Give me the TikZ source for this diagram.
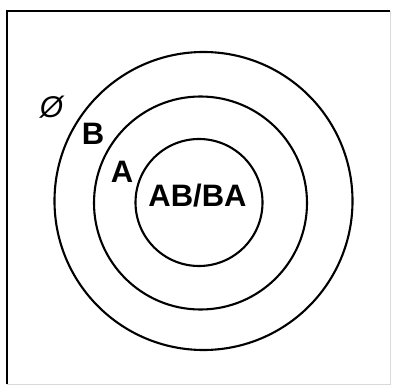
\documentclass[tikz,border=0pt]{standalone}
\usepackage{fontspec}
\setmainfont{Liberation Sans}
\usepackage{tikz}
\usetikzlibrary{positioning}
\tikzset{
  ring/.style       = {black, line width=2.1pt},
  frame edge/.style = {black, line width=2.2pt},
  faint edge/.style = {black!15, line width=0.6pt},
  set label/.style  = {font=\fontsize{31}{31}\selectfont\bfseries,
                       inner sep=0pt, anchor=base},
  void label/.style = {font=\fontsize{30}{30}\selectfont\itshape,
                       inner sep=0pt},
}

\begin{document}
\begin{tikzpicture}[x=1pt,y=-1pt]
      \useasboundingbox (0,0) rectangle (393,387);
      \draw[faint edge] (390,11) -- (390,384) -- (7,384);
      \draw[frame edge] (7,384) -- (7,11) -- (390,11);
      \draw[ring] (203.5,201) circle (149);
      \draw[ring] (200.5,203) circle (106.5);
      \draw[ring] (199,202.5) circle (63.5);
      \node[set label] (both) at (197.5,207) {AB/BA};
      \node[set label] (a) at (122,183) {A};
      \node[set label] (b) at (93,145) {B};
      \node[void label] (none) at (51.5,107) {Ø};
    \end{tikzpicture}
\end{document}
